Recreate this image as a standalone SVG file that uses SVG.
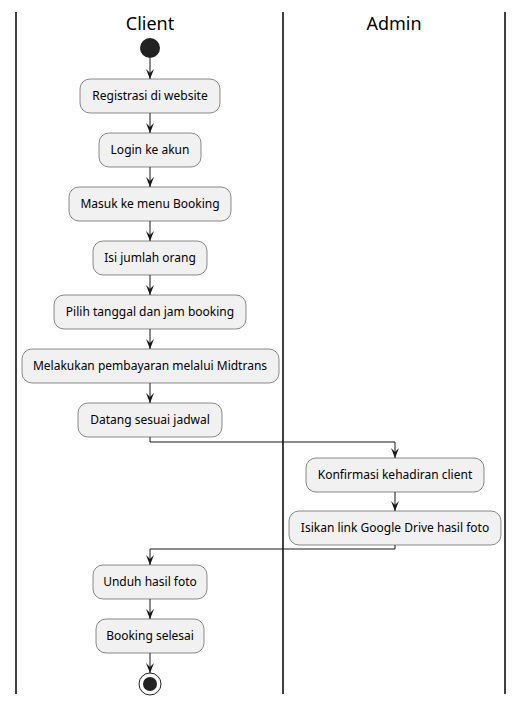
<svg xmlns="http://www.w3.org/2000/svg" width="523" height="706" viewBox="0 0 523 706">
<defs>
<style>
.lane{stroke:#000;stroke-width:1.5;fill:none}
.title{font-family:"Noto Sans","DejaVu Sans",sans-serif;font-size:18px;fill:#000;text-anchor:middle}
.box rect{fill:#F1F1F1;stroke:#181818;stroke-width:0.5}
.box text{font-family:"Noto Sans","DejaVu Sans",sans-serif;font-size:12px;fill:#000;text-anchor:middle}
.edge{stroke:#181818;stroke-width:1;fill:none}
</style>
<marker id="arr" viewBox="0 0 10 10" refX="10" refY="5" markerWidth="10" markerHeight="10" markerUnits="userSpaceOnUse" orient="auto">
<path d="M0,1 L10,5 L0,9 L4,5 Z" fill="#181818"/>
</marker>
</defs>
<rect width="523" height="706" fill="#fff"/>
<g id="lanes">
<line class="lane" x1="16" y1="12" x2="16" y2="694"/>
<line class="lane" x1="283" y1="12" x2="283" y2="694"/>
<line class="lane" x1="505" y1="12" x2="505" y2="694"/>
<text class="title" x="150" y="30">Client</text>
<text class="title" x="394" y="30">Admin</text>
</g>
<g id="start"><circle cx="150" cy="48" r="10" fill="#222"/></g>
<g id="n1" class="box"><rect x="80" y="79" width="140" height="34" rx="10"/><text x="150" y="100">Registrasi di website</text></g>
<g id="n2" class="box"><rect x="99" y="133" width="102" height="34" rx="10"/><text x="150" y="154">Login ke akun</text></g>
<g id="n3" class="box"><rect x="69" y="187" width="162" height="34" rx="10"/><text x="150" y="208">Masuk ke menu Booking</text></g>
<g id="n4" class="box"><rect x="93" y="241" width="114" height="34" rx="10"/><text x="150" y="262">Isi jumlah orang</text></g>
<g id="n5" class="box"><rect x="54" y="295" width="192" height="34" rx="10"/><text x="150" y="316">Pilih tanggal dan jam booking</text></g>
<g id="n6" class="box"><rect x="22" y="349" width="257" height="34" rx="10"/><text x="150" y="370">Melakukan pembayaran melalui Midtrans</text></g>
<g id="n7" class="box"><rect x="78" y="403" width="144" height="34" rx="10"/><text x="150" y="424">Datang sesuai jadwal</text></g>
<g id="n8" class="box"><rect x="306" y="458" width="178" height="34" rx="10"/><text x="395" y="479">Konfirmasi kehadiran client</text></g>
<g id="n9" class="box"><rect x="289" y="511" width="212" height="34" rx="10"/><text x="395" y="532">Isikan link Google Drive hasil foto</text></g>
<g id="n10" class="box"><rect x="93" y="565" width="114" height="34" rx="10"/><text x="150" y="586">Unduh hasil foto</text></g>
<g id="n11" class="box"><rect x="96" y="619" width="108" height="34" rx="10"/><text x="150" y="640">Booking selesai</text></g>
<g id="end"><circle cx="150" cy="684" r="11" fill="none" stroke="#222" stroke-width="1"/><circle cx="150" cy="684" r="7" fill="#222"/></g>
<g id="connectors">
<path class="edge" d="M150,58 V79" marker-end="url(#arr)"/>
<path class="edge" d="M150,113 V133" marker-end="url(#arr)"/>
<path class="edge" d="M150,167 V187" marker-end="url(#arr)"/>
<path class="edge" d="M150,221 V241" marker-end="url(#arr)"/>
<path class="edge" d="M150,275 V295" marker-end="url(#arr)"/>
<path class="edge" d="M150,329 V349" marker-end="url(#arr)"/>
<path class="edge" d="M150,383 V403" marker-end="url(#arr)"/>
<path class="edge" d="M150,437 V442 H395 V458" marker-end="url(#arr)"/>
<path class="edge" d="M395,492 V511" marker-end="url(#arr)"/>
<path class="edge" d="M395,545 V549 H150 V565" marker-end="url(#arr)"/>
<path class="edge" d="M150,599 V619" marker-end="url(#arr)"/>
<path class="edge" d="M150,653 V673" marker-end="url(#arr)"/>
</g>
</svg>
